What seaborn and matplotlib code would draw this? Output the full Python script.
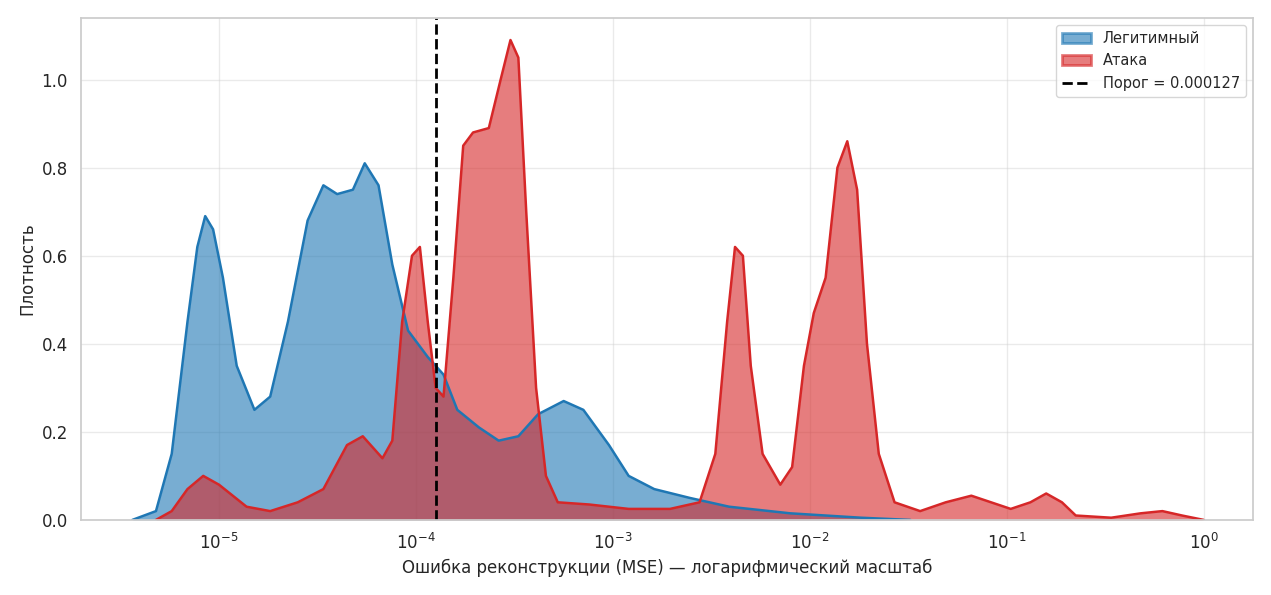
import numpy as np
import pandas as pd
import matplotlib.pyplot as plt
import seaborn as sns
from matplotlib.patches import Patch
from matplotlib.lines import Line2D

sns.set_theme(style="whitegrid")

# плотности (x = log10(MSE))
legit_log = [-5.44, -5.32, -5.24, -5.16, -5.11, -5.07, -5.03, -4.98, -4.91, -4.82, -4.74, -4.65,
             -4.55, -4.47, -4.40, -4.32, -4.26, -4.19, -4.12, -4.04, -3.94, -3.86, -3.79, -3.68,
             -3.58, -3.48, -3.38, -3.25, -3.15, -3.02, -2.92, -2.79, -2.61, -2.41, -2.10, -1.74, -1.49]
legit_dens = [0.0, 0.02, 0.15, 0.45, 0.62, 0.69, 0.66, 0.55, 0.35, 0.25, 0.28, 0.45,
              0.68, 0.76, 0.74, 0.75, 0.81, 0.76, 0.58, 0.43, 0.37, 0.33, 0.25, 0.21,
              0.18, 0.19, 0.24, 0.27, 0.25, 0.17, 0.10, 0.07, 0.05, 0.03, 0.015, 0.005, 0.0]

attack_log = [-5.32, -5.24, -5.16, -5.08, -5.0, -4.86, -4.74, -4.60, -4.47, -4.35, -4.27, -4.17,
              -4.12, -4.07, -4.02, -3.98, -3.94, -3.90, -3.86, -3.81, -3.76, -3.71, -3.63, -3.57,
              -3.52, -3.48, -3.44, -3.39, -3.34, -3.28, -3.12, -2.92, -2.71, -2.56, -2.48, -2.42,
              -2.38, -2.34, -2.30, -2.24, -2.15, -2.09, -2.03, -1.98, -1.92, -1.86, -1.81, -1.76,
              -1.71, -1.65, -1.57, -1.44, -1.31, -1.18, -1.08, -0.98, -0.88, -0.80, -0.72, -0.65,
              -0.47, -0.32, -0.21, -0.11, 0.0]
attack_dens = [0.0, 0.02, 0.07, 0.10, 0.08, 0.03, 0.02, 0.04, 0.07, 0.17, 0.19, 0.14,
               0.18, 0.45, 0.60, 0.62, 0.45, 0.30, 0.28, 0.55, 0.85, 0.88, 0.89, 1.0,
               1.09, 1.05, 0.70, 0.30, 0.10, 0.04, 0.035, 0.025, 0.025, 0.04, 0.15, 0.45,
               0.62, 0.60, 0.35, 0.15, 0.08, 0.12, 0.35, 0.47, 0.55, 0.80, 0.86, 0.75,
               0.40, 0.15, 0.04, 0.02, 0.04, 0.055, 0.04, 0.025, 0.04, 0.06, 0.04, 0.01,
               0.005, 0.015, 0.02, 0.01, 0.0]

threshold = 0.000127

legit = pd.DataFrame({"mse": 10 ** np.array(legit_log), "density": legit_dens})
attack = pd.DataFrame({"mse": 10 ** np.array(attack_log), "density": attack_dens})

blue = "#1f77b4"
red = "#d62728"

fig, ax = plt.subplots(figsize=(12.71, 5.95), dpi=100)
sns.lineplot(data=legit, x="mse", y="density", color=blue, lw=1.8, ax=ax)
ax.fill_between(legit["mse"], legit["density"], color=blue, alpha=0.6, lw=0)
sns.lineplot(data=attack, x="mse", y="density", color=red, lw=1.8, ax=ax)
ax.fill_between(attack["mse"], attack["density"], color=red, alpha=0.6, lw=0)
ax.axvline(threshold, color="black", ls="--", lw=2)

ax.set_xscale("log")
ax.set_xlim(10 ** -5.7, 10 ** 0.25)
ax.set_ylim(0, 1.14)
ax.set_xlabel("Ошибка реконструкции (MSE) — логарифмический масштаб", fontsize=12)
ax.set_ylabel("Плотность", fontsize=12)
ax.tick_params(labelsize=12)
ax.grid(alpha=0.4)

handles = [
    Patch(facecolor=blue, edgecolor=blue, alpha=0.6, lw=2, label="Легитимный"),
    Patch(facecolor=red, edgecolor=red, alpha=0.6, lw=2, label="Атака"),
    Line2D([0], [0], color="black", ls="--", lw=2, label=f"Порог = {threshold:.6f}"),
]
ax.legend(handles=handles, loc="upper right", fontsize=10.5, frameon=True)

plt.tight_layout()
plt.savefig("out.png", dpi=100)
